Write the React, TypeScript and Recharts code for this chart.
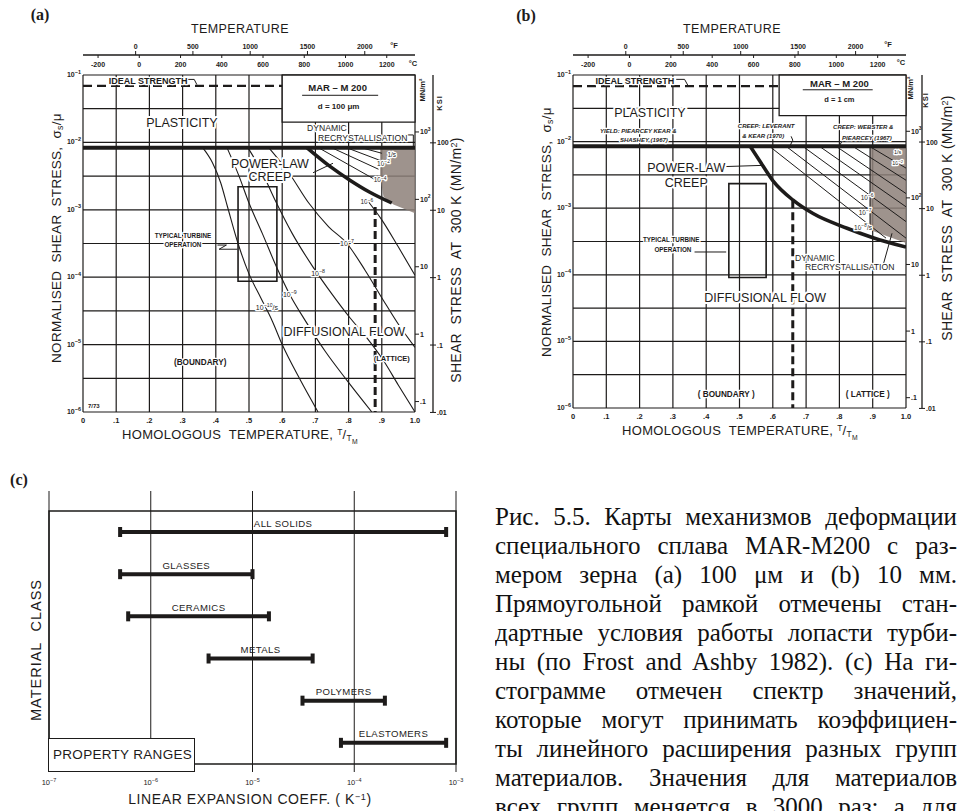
import React from "react";
import {
  ComposedChart,
  Line,
  Area,
  Bar,
  XAxis,
  YAxis,
  CartesianGrid,
  ReferenceArea,
  ReferenceDot,
} from "recharts";

const INK = "#1d1b1a";
const STIPPLE = "#8d8079";
const SANS = "'Liberation Sans', 'DejaVu Sans', Arial, sans-serif";
const SERIF = "'Liberation Serif', 'Times New Roman', serif";

// scales shared by the two MAR-M 200 maps
const TM = 1610; // melting point, K
const MU = 7.0e4; // shear modulus at 300 K, MN/m^2
const MN_PER_KSI = 6.895;

const T_TICKS = [0, 0.1, 0.2, 0.3, 0.4, 0.5, 0.6, 0.7, 0.8, 0.9, 1.0];
const STRESS_TICKS = [1e-6, 3.16e-6, 1e-5, 3.16e-5, 1e-4, 3.16e-4, 1e-3, 3.16e-3, 1e-2, 3.16e-2, 1e-1];
const CELSIUS_TICKS = [-200, 0, 200, 400, 600, 800, 1000, 1200];
const FAHRENHEIT_TICKS = [0, 500, 1000, 1500, 2000];
const MN_TICKS = [0.1, 1, 10, 100, 1000];
const KSI_TICKS = [0.01, 0.1, 1, 10, 100];

const cToT = (c: number) => (c + 273) / TM;
const fToT = (f: number) => (((f - 32) * 5) / 9 + 273) / TM;

type Pt = [number, number];
const pts = (list: Pt[]) => list.map(([t, s]) => ({ t, s }));

type Note = {
  text: string;
  t: number;
  s: number;
  size: number;
  anchor?: "start" | "middle" | "end";
  bold?: boolean;
  italic?: boolean;
  sup?: string;
  tail?: string;
};

// ---------- (a) grain size 100 um ----------
const A_YIELD: Pt[] = [[0, 8.3e-3], [1, 8.3e-3]];
const A_IDEAL: Pt[] = [[0, 6.9e-2], [0.6, 6.9e-2]];
const A_BOUNDARY: Pt[] = [[0.675, 8.3e-3], [0.744, 4.4e-3], [0.804, 2.75e-3], [0.864, 1.82e-3], [0.93, 1.26e-3]];
const A_LATTICE: Pt[] = [[0.88, 1.1e-3], [0.88, 1e-6]];
const A_CONTOURS: Pt[][] = [
  [[0.361, 8.3e-3], [0.39, 5.0e-3], [0.415, 2.5e-3], [0.435, 1.12e-3], [0.467, 3.16e-4], [0.5, 1.12e-4], [0.535, 5.0e-5], [0.57, 2.24e-5], [0.6, 1.0e-5], [0.655, 2.95e-6], [0.708, 1e-6]],
  [[0.434, 8.3e-3], [0.47, 3.16e-3], [0.5, 1.26e-3], [0.54, 4.47e-4], [0.584, 1.38e-4], [0.623, 5.5e-5], [0.669, 2.29e-5], [0.73, 7.9e-6], [0.795, 2.95e-6], [0.87, 1e-6]],
  [[0.497, 8.3e-3], [0.535, 3.98e-3], [0.578, 1.41e-3], [0.63, 4.47e-4], [0.693, 1.41e-4], [0.75, 5.6e-5], [0.804, 2.5e-5], [0.855, 1.26e-5], [0.904, 5.9e-6], [0.95, 2.5e-6], [1.0, 1e-6]],
  [[0.56, 8.3e-3], [0.62, 3.55e-3], [0.68, 1.26e-3], [0.74, 5.6e-4], [0.795, 3.16e-4], [0.85, 1.26e-4], [0.904, 4.6e-5], [0.95, 2.0e-5], [1.0, 9.1e-6]],
  [[0.855, 1.41e-3], [0.9, 7.1e-4], [0.95, 2.8e-4], [1.0, 1.07e-4]],
];
const A_HATCH: Pt[][] = [
  [[0.71, 8.3e-3], [0.88, 2.8e-3]],
  [[0.75, 8.3e-3], [0.89, 4.0e-3]],
  [[0.795, 8.3e-3], [0.895, 5.4e-3]],
  [[0.84, 8.3e-3], [0.9, 6.9e-3]],
];
const A_LEADERS: Pt[][] = [
  [[0.316, 8.6e-2], [0.335, 8.6e-2], [0.343, 7.2e-2]],
  [[0.693, 3.55e-3], [0.753, 4.9e-3]],
  [[0.405, 3.0e-4], [0.432, 3.0e-4], [0.41, 2.6e-4], [0.465, 2.6e-4]],
  [[0.97, 1.29e-2], [0.995, 1.29e-2], [0.995, 8.3e-3]],
  [[0.66, 5.0e-2], [0.889, 5.0e-2]],
];
const A_STIPPLE_T = [0.895, 0.905, 0.935, 1.0];
const A_STIPPLE_LOW = [3.16e-3, 1.58e-3, 1.2e-3, 8.9e-4];
const A_TURBINE = { t: [0.467, 0.584], s: [8.7e-5, 2.2e-3] };
const A_MARBOX = { t: [0.6, 1.0], s: [2.0e-2, 0.1] };
const A_NOTES: Note[] = [
  { text: "IDEAL  STRENGTH", t: 0.196, s: 8.3e-2, size: 9, bold: true },
  { text: "PLASTICITY", t: 0.298, s: 1.95e-2, size: 12.5 },
  { text: "MAR – M 200", t: 0.767, s: 6.5e-2, size: 9.5, bold: true },
  { text: "d = 100 μm", t: 0.77, s: 3.5e-2, size: 8, bold: true },
  { text: "DYNAMIC", t: 0.675, s: 1.62e-2, size: 8.6, anchor: "start" },
  { text: "RECRYSTALLISATION", t: 0.708, s: 1.17e-2, size: 8.6, anchor: "start" },
  { text: "POWER-LAW", t: 0.563, s: 4.9e-3, size: 12.5 },
  { text: "CREEP", t: 0.563, s: 3.1e-3, size: 12.5 },
  { text: "TYPICAL TURBINE", t: 0.301, s: 4.1e-4, size: 6.3, bold: true },
  { text: "OPERATION", t: 0.301, s: 3.0e-4, size: 6.3, bold: true },
  { text: "10", sup: "−7", t: 0.795, s: 3.2e-4, size: 7 },
  { text: "10", sup: "−8", t: 0.708, s: 1.15e-4, size: 7 },
  { text: "10", sup: "−9", t: 0.623, s: 5.5e-5, size: 7 },
  { text: "10", sup: "−10", tail: "/s", t: 0.554, s: 3.6e-5, size: 7 },
  { text: "DIFFUSIONAL  FLOW", t: 0.787, s: 1.58e-5, size: 12.5 },
  { text: "(BOUNDARY)", t: 0.353, s: 5.5e-6, size: 8.2, bold: true },
  { text: "(LATTICE)", t: 0.93, s: 6.2e-6, size: 7.5, bold: true },
  { text: "10", sup: "−6", t: 0.855, s: 1.3e-3, size: 6.5 },
  { text: "10", sup: "−4", t: 0.895, s: 2.75e-3, size: 6.5 },
  { text: "10", sup: "−2", t: 0.905, s: 4.9e-3, size: 6.5 },
  { text: "1/s", t: 0.93, s: 6.5e-3, size: 6.5 },
  { text: "7/73", t: 0.015, s: 1.25e-6, size: 6, anchor: "start", bold: true },
];

// ---------- (b) grain size 1 cm ----------
const B_YIELD: Pt[] = [[0, 8.5e-3], [1, 8.5e-3]];
const B_IDEAL: Pt[] = [[0, 6.8e-2], [0.62, 6.8e-2]];
const B_BOUNDARY: Pt[] = [[0.532, 8.5e-3], [0.56, 5.2e-3], [0.6, 2.6e-3], [0.661, 1.32e-3], [0.721, 8.3e-4], [0.823, 5.0e-4], [0.901, 3.6e-4], [1.0, 2.6e-4]];
const B_LATTICE: Pt[] = [[0.66, 1.32e-3], [0.66, 1e-6]];
const B_CONTOURS: Pt[][] = [[[0.892, 8.5e-3], [0.892, 4.7e-4]]];
const B_HATCH: Pt[][] = [
  [[0.59, 8.5e-3], [0.94, 3.55e-4]],
  [[0.64, 8.5e-3], [1.0, 3.55e-4]],
  [[0.69, 8.5e-3], [1.0, 6.3e-4]],
  [[0.74, 8.5e-3], [1.0, 1.05e-3]],
  [[0.79, 8.5e-3], [1.0, 1.66e-3]],
  [[0.84, 8.5e-3], [1.0, 2.63e-3]],
  [[0.89, 8.5e-3], [1.0, 4.0e-3]],
];
const B_LEADERS: Pt[][] = [
  [[0.31, 8.6e-2], [0.335, 8.6e-2], [0.345, 7.0e-2]],
  [[0.445, 4.2e-3], [0.571, 4.4e-3]],
  [[0.365, 2.2e-4], [0.46, 2.2e-4]],
  [[0.931, 1.38e-4], [0.958, 4.2e-4]],
  [[0.655, 1.2e-2], [0.66, 1.05e-2], [0.652, 8.7e-3]],
  [[0.81, 1.05e-2], [0.8, 8.7e-3]],
  [[0.69, 6.0e-2], [0.9, 6.0e-2]],
];
const B_STIPPLE_T = [0.892, 0.95, 1.0];
const B_STIPPLE_LOW = [4.7e-4, 3.7e-4, 3.0e-4];
const B_TURBINE = { t: [0.468, 0.58], s: [9.1e-5, 2.34e-3] };
const B_MARBOX = { t: [0.619, 1.0], s: [2.45e-2, 0.1] };
const B_NOTES: Note[] = [
  { text: "IDEAL  STRENGTH", t: 0.186, s: 8.3e-2, size: 9, bold: true },
  { text: "PLASTICITY", t: 0.231, s: 2.75e-2, size: 12.5 },
  { text: "YIELD: PIEARCEY KEAR &", t: 0.081, s: 1.45e-2, size: 6, anchor: "start", bold: true, italic: true },
  { text: "SHASHEY (1967)", t: 0.141, s: 1.05e-2, size: 6, anchor: "start", bold: true, italic: true },
  { text: "CREEP: LEVERANT", t: 0.495, s: 1.74e-2, size: 6, anchor: "start", bold: true, italic: true },
  { text: "& KEAR (1970)", t: 0.508, s: 1.23e-2, size: 6, anchor: "start", bold: true, italic: true },
  { text: "CREEP: WEBSTER &", t: 0.781, s: 1.66e-2, size: 6, anchor: "start", bold: true, italic: true },
  { text: "PIEARCEY (1967)", t: 0.808, s: 1.15e-2, size: 6, anchor: "start", bold: true, italic: true },
  { text: "MAR – M  200", t: 0.8, s: 7.4e-2, size: 9.5, bold: true },
  { text: "d = 1 cm", t: 0.8, s: 4.3e-2, size: 7.5, bold: true },
  { text: "POWER-LAW", t: 0.34, s: 4.0e-3, size: 12.5 },
  { text: "CREEP", t: 0.34, s: 2.45e-3, size: 12.5 },
  { text: "TYPICAL TURBINE", t: 0.295, s: 3.3e-4, size: 6.3, bold: true },
  { text: "OPERATION", t: 0.3, s: 2.4e-4, size: 6.3, bold: true },
  { text: "DYNAMIC", t: 0.667, s: 1.8e-4, size: 8.6, anchor: "start" },
  { text: "RECRYSTALLISATION", t: 0.697, s: 1.29e-4, size: 8.6, anchor: "start" },
  { text: "DIFFUSIONAL  FLOW", t: 0.577, s: 4.6e-5, size: 12.5 },
  { text: "( BOUNDARY )", t: 0.46, s: 1.62e-6, size: 8.2, bold: true },
  { text: "( LATTICE )", t: 0.885, s: 1.62e-6, size: 8.2, bold: true },
  { text: "10", sup: "−6", t: 0.883, s: 1.45e-3, size: 6.5 },
  { text: "10", sup: "−7", t: 0.877, s: 8.7e-4, size: 6.5 },
  { text: "10", sup: "−8", tail: "/s", t: 0.871, s: 5.1e-4, size: 6.5 },
  { text: "1/s", t: 0.975, s: 6.9e-3, size: 5.5 },
  { text: "10", sup: "−2", t: 0.975, s: 4.8e-3, size: 5.5 },
];

// ---------- (c) linear expansion coefficient ranges ----------
const MATERIALS = ["ALL SOLIDS", "GLASSES", "CERAMICS", "METALS", "POLYMERS", "ELASTOMERS"];
const EXPANSION_LOW = [5e-7, 5e-7, 6e-7, 3.7e-6, 3.1e-5, 7.4e-5];
const EXPANSION_HIGH = [8e-4, 1e-5, 1.45e-5, 3.9e-5, 2e-4, 8e-4];
const EXPANSION_TICKS = [1e-7, 1e-6, 1e-5, 1e-4, 1e-3];

const CAPTION = [
  "Рис. 5.5. Карты механизмов деформации",
  "специального сплава MAR-M200 с раз-",
  "мером зерна (a) 100 μм и (b) 10 мм.",
  "Прямоугольной рамкой отмечены стан-",
  "дартные условия работы лопасти турби-",
  "ны (по Frost and Ashby 1982). (c) На ги-",
  "стограмме отмечен спектр значений,",
  "которые могут принимать коэффициен-",
  "ты линейного расширения разных групп",
  "материалов. Значения для материалов",
  "всех групп меняется в 3000 раз; а для",
];

type Panel = {
  yieldLine: Pt[];
  ideal: Pt[];
  boundary: Pt[];
  lattice: Pt[];
  contours: Pt[][];
  hatch: Pt[][];
  leaders: Pt[][];
  stippleT: number[];
  stippleLow: number[];
  turbine: { t: number[]; s: number[] };
  marBox: { t: number[]; s: number[] };
  notes: Note[];
};

type Frame = { width: number; height: number; left: number; right: number; top: number; bottom: number; mnW: number; ksiW: number };

const PANEL_A: Panel = {
  yieldLine: A_YIELD, ideal: A_IDEAL, boundary: A_BOUNDARY, lattice: A_LATTICE,
  contours: A_CONTOURS, hatch: A_HATCH, leaders: A_LEADERS,
  stippleT: A_STIPPLE_T, stippleLow: A_STIPPLE_LOW,
  turbine: A_TURBINE, marBox: A_MARBOX, notes: A_NOTES,
};
const PANEL_B: Panel = {
  yieldLine: B_YIELD, ideal: B_IDEAL, boundary: B_BOUNDARY, lattice: B_LATTICE,
  contours: B_CONTOURS, hatch: B_HATCH, leaders: B_LEADERS,
  stippleT: B_STIPPLE_T, stippleLow: B_STIPPLE_LOW,
  turbine: B_TURBINE, marBox: B_MARBOX, notes: B_NOTES,
};
const FRAME_A: Frame = { width: 480, height: 445, left: 83, right: 415, top: 75, bottom: 412, mnW: 18, ksiW: 32 };
const FRAME_B: Frame = { width: 477, height: 445, left: 93, right: 426, top: 75, bottom: 408, mnW: 16, ksiW: 35 };

const tickText = { fontFamily: SANS, fill: INK, fontWeight: 700 } as const;

const bottomTick = (props: any) => {
  const { x, y, payload } = props;
  const v = payload.value;
  const label = v === 0 ? "0" : v > 0.99 ? "1.0" : "." + Math.round(v * 10);
  return (
    <text x={x} y={y + 10.5} textAnchor="middle" fontSize={7.5} {...tickText}>
      {label}
    </text>
  );
};

const stressTick = (props: any) => {
  const { x, y, payload } = props;
  const e = Math.log10(payload.value);
  if (Math.abs(e - Math.round(e)) > 0.01) return <g />;
  return (
    <text x={x - 2} y={y + 2} textAnchor="end" fontSize={7} {...tickText}>
      10
      <tspan dy={-3.5} fontSize={5.5}>
        {String(Math.round(e)).replace("-", "−")}
      </tspan>
    </text>
  );
};

const mnTick = (props: any) => {
  const { x, y, payload } = props;
  const v = payload.value;
  return (
    <g>
      <line x1={x} x2={x + 4} y1={y} y2={y} stroke={INK} strokeWidth={1} />
      <text x={x + 5} y={y + 2.5} fontSize={7} {...tickText}>
        {v >= 100 ? (
          <>
            10
            <tspan dy={-3.5} fontSize={5}>
              {Math.round(Math.log10(v))}
            </tspan>
          </>
        ) : v >= 1 ? (
          String(v)
        ) : (
          String(v).replace(/^0/, "")
        )}
      </text>
    </g>
  );
};

const ksiTick = (props: any) => {
  const { x, y, payload } = props;
  const v = payload.value;
  return (
    <g>
      <line x1={x - 3} x2={x + 3} y1={y} y2={y} stroke={INK} strokeWidth={1} />
      <text x={x + 4} y={y + 2.5} fontSize={7} {...tickText}>
        {v >= 1 ? String(v) : String(v).replace(/^0/, "")}
      </text>
    </g>
  );
};

const fahrenheitTick = (props: any) => {
  const { x, y, payload } = props;
  const f = Math.round(((payload.value * TM - 273) * 9) / 5 + 32);
  return (
    <text x={x} y={y} textAnchor="middle" fontSize={7} {...tickText}>
      {f}
    </text>
  );
};

const celsiusTick = (lineY: number) => (props: any) => {
  const { x, payload } = props;
  const c = Math.round(payload.value * TM - 273);
  return (
    <g>
      <line x1={x} x2={x} y1={lineY} y2={lineY + 3} stroke={INK} strokeWidth={1} />
      <text x={x} y={lineY + 12} textAnchor="middle" fontSize={7} {...tickText}>
        {c}
      </text>
    </g>
  );
};

const noteShape = (n: Note) => (props: any) => (
  <text
    x={props.cx}
    y={props.cy}
    dy="0.35em"
    textAnchor={n.anchor ?? "middle"}
    fontSize={n.size}
    fontFamily={SANS}
    fontWeight={n.bold ? 700 : 400}
    fontStyle={n.italic ? "italic" : "normal"}
    fill={INK}
    stroke="#fff"
    strokeWidth={n.size > 10 ? 4 : 2.5}
    strokeLinejoin="round"
    paintOrder="stroke"
  >
    {n.text}
    {n.sup && (
      <tspan dy={-n.size * 0.4} fontSize={n.size * 0.75}>
        {n.sup}
      </tspan>
    )}
    {n.tail && <tspan dy={n.size * 0.4}>{n.tail}</tspan>}
  </text>
);

function DeformationMap({ p, f }: { p: Panel; f: Frame }) {
  const axisH = 20;
  const leftW = 36;
  const lineY = f.top - axisH;
  const stipple = p.stippleT.map((t, i) => ({ t, band: [p.stippleLow[i], p.yieldLine[0][1]] }));
  const thin = { stroke: INK, strokeWidth: 1.1, dot: false, isAnimationActive: false } as const;
  const anchorData = pts(p.yieldLine);

  return (
    <ComposedChart
      width={f.width}
      height={f.height}
      margin={{
        top: f.top - 2 * axisH,
        left: f.left - leftW,
        right: f.width - f.right - f.mnW - f.ksiW,
        bottom: f.height - f.bottom - 30,
      }}
    >
      <XAxis dataKey="t" type="number" domain={[0, 1]} allowDataOverflow ticks={T_TICKS} interval={0}
        height={30} axisLine={false} tickLine={false} tickSize={0} tickMargin={0} tick={bottomTick} />
      <XAxis xAxisId="c" dataKey="t" orientation="top" type="number" domain={[0, 1]} allowDataOverflow
        ticks={CELSIUS_TICKS.map(cToT)} interval={0} height={axisH} axisLine={false} tickLine={false}
        tick={celsiusTick(lineY)} />
      <XAxis xAxisId="f" dataKey="t" orientation="top" type="number" domain={[0, 1]} allowDataOverflow
        ticks={FAHRENHEIT_TICKS.map(fToT)} interval={0} height={axisH}
        axisLine={{ stroke: INK, strokeWidth: 1.3 }} tickLine={{ stroke: INK }} tickSize={4} tickMargin={2}
        tick={fahrenheitTick} />
      <YAxis type="number" scale="log" domain={[1e-6, 1e-1]} allowDataOverflow ticks={STRESS_TICKS}
        interval={0} width={leftW} axisLine={false} tickLine={false} tickSize={0} tickMargin={0}
        tick={stressTick} />
      <YAxis yAxisId="a-mn" orientation="right" type="number" scale="log" domain={[1e-6 * MU, 1e-1 * MU]}
        allowDataOverflow ticks={MN_TICKS} interval={0} width={f.mnW} axisLine={false} tickLine={false}
        tickSize={0} tickMargin={0} tick={mnTick} />
      <YAxis yAxisId="b-ksi" orientation="right" type="number" scale="log"
        domain={[(1e-6 * MU) / MN_PER_KSI, (1e-1 * MU) / MN_PER_KSI]} allowDataOverflow ticks={KSI_TICKS}
        interval={0} width={f.ksiW} axisLine={{ stroke: INK, strokeWidth: 1.3 }} tickLine={false}
        tickSize={0} tickMargin={0} tick={ksiTick} />

      <CartesianGrid stroke={INK} strokeWidth={1.2} />
      <ReferenceArea x1={p.marBox.t[0]} x2={p.marBox.t[1]} y1={p.marBox.s[0]} y2={p.marBox.s[1]}
        fill="#fff" fillOpacity={1} stroke={INK} strokeWidth={1.3} ifOverflow="visible" />

      {/* invisible series that bind the two temperature scales */}
      <Line xAxisId="c" data={anchorData} dataKey="s" stroke="none" dot={false} activeDot={false}
        isAnimationActive={false} legendType="none" />
      <Line xAxisId="f" data={anchorData} dataKey="s" stroke="none" dot={false} activeDot={false}
        isAnimationActive={false} legendType="none" />

      <Area data={stipple} dataKey="band" type="linear" stroke="none" fill={STIPPLE} fillOpacity={0.85}
        isAnimationActive={false} />

      {p.contours.map((c, i) => (
        <Line key={"c" + i} data={pts(c)} dataKey="s" type={c[0][0] === c[1][0] ? "linear" : "monotone"} {...thin} />
      ))}
      {p.hatch.map((c, i) => (
        <Line key={"h" + i} data={pts(c)} dataKey="s" type="linear" {...thin} strokeWidth={1} />
      ))}
      {p.leaders.map((c, i) => (
        <Line key={"l" + i} data={pts(c)} dataKey="s" type="linear" {...thin} strokeWidth={1} />
      ))}

      <Line data={pts(p.ideal)} dataKey="s" type="linear" stroke={INK} strokeWidth={2.2}
        strokeDasharray="9 5" dot={false} isAnimationActive={false} />
      <Line data={pts(p.yieldLine)} dataKey="s" type="linear" stroke={INK} strokeWidth={4}
        dot={false} isAnimationActive={false} />
      <Line data={pts(p.boundary)} dataKey="s" type="monotone" stroke={INK} strokeWidth={3.5}
        dot={false} isAnimationActive={false} />
      <Line data={pts(p.lattice)} dataKey="s" type="linear" stroke={INK} strokeWidth={3}
        strokeDasharray="8 4" dot={false} isAnimationActive={false} />

      <ReferenceArea x1={p.turbine.t[0]} x2={p.turbine.t[1]} y1={p.turbine.s[0]} y2={p.turbine.s[1]}
        fill="none" stroke={INK} strokeWidth={1.6} ifOverflow="visible" />

      {p.notes.map((n, i) => (
        <ReferenceDot key={"n" + i} x={n.t} y={n.s} r={0} ifOverflow="visible" shape={noteShape(n)} />
      ))}
    </ComposedChart>
  );
}

const expTick = (props: any) => {
  const { x, y, payload } = props;
  const e = Math.round(Math.log10(payload.value));
  return (
    <text x={x} y={y + 13} textAnchor="middle" fontSize={7.5} fontFamily={SANS} fill={INK}>
      10
      <tspan dy={-3.5} fontSize={5.5}>
        {String(e).replace("-", "−")}
      </tspan>
    </text>
  );
};

const rangeBar = (props: any) => {
  const { x, y, width, height, payload } = props;
  const cy = y + height / 2;
  return (
    <g>
      <line x1={x} x2={x + width} y1={cy} y2={cy} stroke={INK} strokeWidth={4} />
      <rect x={x - 2} y={cy - 5} width={4} height={10} fill={INK} />
      <rect x={x + width - 2} y={cy - 5} width={4} height={10} fill={INK} />
      <text x={x + width / 2} y={cy - 5.5} textAnchor="middle" fontSize={9.6} fontFamily={SANS}
        fill={INK} letterSpacing={0.4}>
        {payload.name}
      </text>
    </g>
  );
};

function ExpansionChart() {
  const data = MATERIALS.map((name, i) => ({ name, range: [EXPANSION_LOW[i], EXPANSION_HIGH[i]] }));
  return (
    <ComposedChart layout="vertical" width={480} height={371} data={data}
      margin={{ top: 51, right: 24, bottom: 19, left: 49 }}>
      <CartesianGrid horizontal={false} stroke={INK} strokeWidth={1} />
      <XAxis type="number" scale="log" domain={[1e-7, 1e-3]} allowDataOverflow ticks={EXPANSION_TICKS}
        interval={0} height={20} axisLine={false} tickLine={false} tickSize={0} tickMargin={0} tick={expTick} />
      <YAxis type="category" dataKey="name" hide padding={{ top: 20, bottom: 8 }} />
      <ReferenceArea x1={1e-7} x2={1e-3} fill="none" stroke={INK} strokeWidth={1.5} ifOverflow="visible" />
      <Bar dataKey="range" barSize={12} shape={rangeBar} isAnimationActive={false} />
    </ComposedChart>
  );
}

function Tag({ x, y, size, rotate = 0, weight = 400, family = SANS, spacing = 0, children }: any) {
  return (
    <div
      style={{
        position: "absolute",
        left: x,
        top: y,
        transform: `translate(-50%, -50%) rotate(${rotate}deg)`,
        fontSize: size,
        fontWeight: weight,
        fontFamily: family,
        letterSpacing: spacing,
        whiteSpace: "nowrap",
        lineHeight: 1,
        color: INK,
      }}
    >
      {children}
    </div>
  );
}

const sub = { fontSize: "0.65em", verticalAlign: "-0.25em" } as const;
const sup = { fontSize: "0.65em", verticalAlign: "0.45em" } as const;

function MapTitles({ dx, temp, fx, cx, mn, ksi, left, right, bottom }: any) {
  return (
    <>
      <Tag x={dx + temp[0]} y={temp[1]} size={12.5} spacing={0.4}>TEMPERATURE</Tag>
      <Tag x={dx + fx[0]} y={fx[1]} size={7.5} weight={700}>°F</Tag>
      <Tag x={dx + cx[0]} y={cx[1]} size={7.5} weight={700}>°C</Tag>
      <Tag x={dx + mn[0]} y={mn[1]} size={7.5} weight={700} rotate={-90}>MN/m²</Tag>
      <Tag x={dx + ksi[0]} y={ksi[1]} size={7.5} weight={700} rotate={-90} spacing={1}>KSI</Tag>
      <Tag x={dx + left[0]} y={left[1]} size={13.5} rotate={-90} spacing={0.3}>
        NORMALISED&nbsp; SHEAR&nbsp; STRESS, &nbsp;σ<span style={sub}>s</span>/μ
      </Tag>
      <Tag x={dx + right[0]} y={right[1]} size={14} rotate={-90} spacing={0.3}>
        SHEAR&nbsp; STRESS&nbsp; AT&nbsp; 300 K (MN/m<span style={sup}>2</span>)
      </Tag>
      <Tag x={dx + bottom[0]} y={bottom[1]} size={13} spacing={0.3}>
        HOMOLOGOUS&nbsp; TEMPERATURE, <span style={sup}>T</span>/<span style={sub}>T<sub style={{ fontSize: "0.8em" }}>M</sub></span>
      </Tag>
    </>
  );
}

export default function App() {
  return (
    <div
      style={{
        position: "absolute",
        left: 0,
        top: 0,
        width: 957,
        height: 811,
        overflow: "hidden",
        background: "#fff",
      }}
    >
      <div style={{ position: "absolute", left: 0, top: 0 }}>
        <DeformationMap p={PANEL_A} f={FRAME_A} />
      </div>
      <div style={{ position: "absolute", left: 480, top: 0 }}>
        <DeformationMap p={PANEL_B} f={FRAME_B} />
      </div>
      <div style={{ position: "absolute", left: 0, top: 440 }}>
        <ExpansionChart />
      </div>

      <Tag x={40} y={15} size={16} weight={700} family={SERIF}>(a)</Tag>
      <Tag x={526} y={16} size={16} weight={700} family={SERIF}>(b)</Tag>
      <Tag x={19} y={480} size={16} weight={700} family={SERIF}>(c)</Tag>

      <MapTitles dx={0} temp={[240, 29]} fx={[394, 46]} cx={[413, 64]} mn={[423, 90]} ksi={[440, 103]}
        left={[57, 238]} right={[456, 260]} bottom={[240, 437]} />
      <MapTitles dx={480} temp={[252, 29]} fx={[408, 45]} cx={[421, 63]} mn={[431, 88]} ksi={[446, 100]}
        left={[67, 232]} right={[467, 218]} bottom={[260, 433]} />

      <Tag x={36} y={650} size={14.5} rotate={-90} spacing={1}>MATERIAL&nbsp; CLASS</Tag>
      <Tag x={250} y={799} size={14} spacing={0.6}>
        LINEAR EXPANSION COEFF. ( K<span style={sup}>−1</span>)
      </Tag>
      <div
        style={{
          position: "absolute",
          left: 48,
          top: 738,
          width: 141,
          height: 32,
          border: `1.5px solid ${INK}`,
          background: "#fff",
          fontFamily: SANS,
          fontSize: 13.5,
          lineHeight: "32px",
          paddingLeft: 4,
          boxSizing: "content-box",
          color: INK,
          whiteSpace: "nowrap",
          letterSpacing: 0.3,
        }}
      >
        PROPERTY RANGES
      </div>

      {CAPTION.map((line, i) => (
        <div
          key={i}
          style={{
            position: "absolute",
            left: 495,
            top: 516 + 29 * i - 14.5,
            width: 462,
            height: 29,
            lineHeight: "29px",
            overflow: "hidden",
            fontFamily: SERIF,
            fontSize: 25,
            color: "#111",
            textAlign: "justify",
            textAlignLast: "justify",
          }}
        >
          {line}
        </div>
      ))}
    </div>
  );
}
